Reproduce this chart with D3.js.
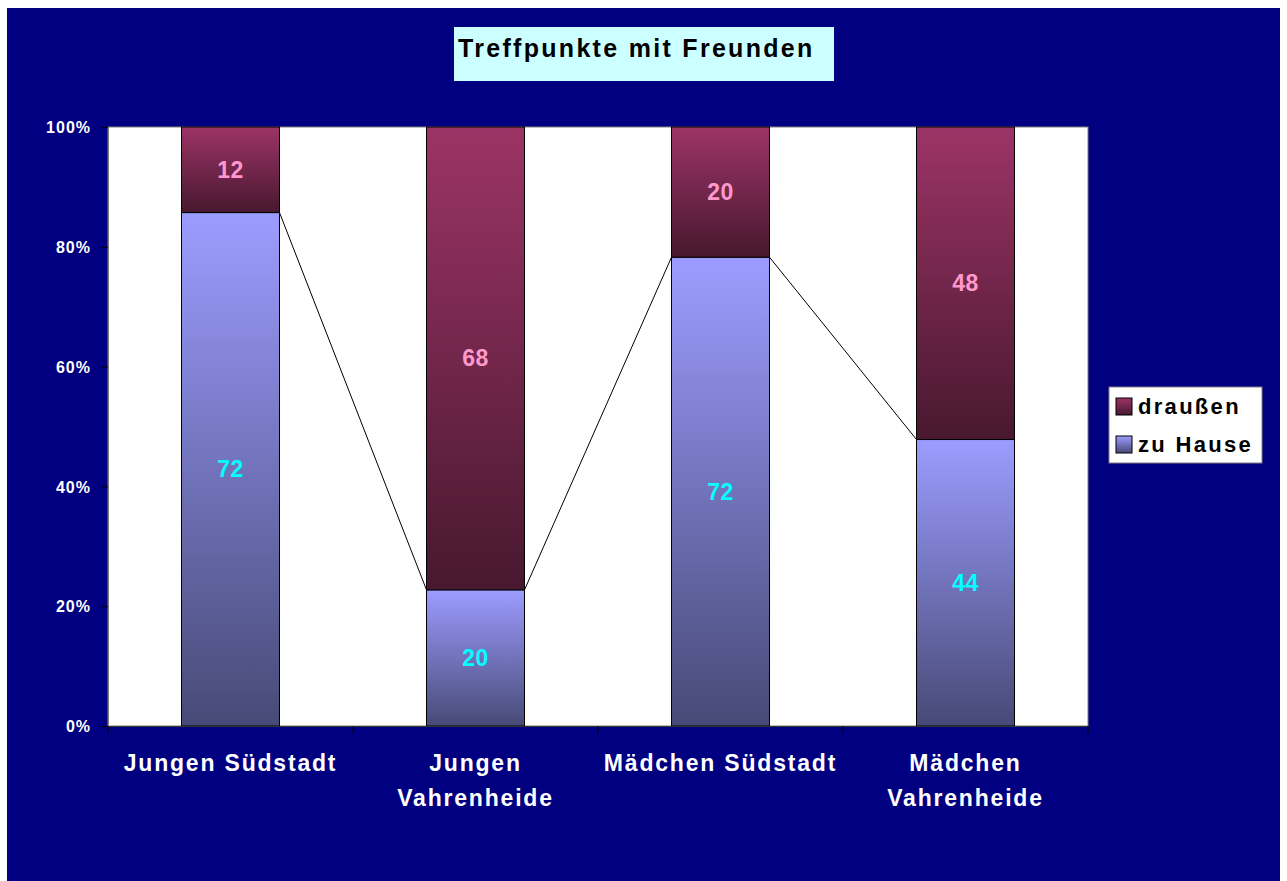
<!DOCTYPE html>
<html>
<head>
<meta charset="utf-8">
<script src="https://cdn.jsdelivr.net/npm/d3@7"></script>
<style>
  body { margin: 0; background: #fff; }
  text { font-family: "Liberation Sans", Arial, sans-serif; font-weight: bold; }
</style>
</head>
<body>
<div id="chart"></div>
<script>
// data
var categories = ["Jungen Südstadt", "Jungen Vahrenheide", "Mädchen Südstadt", "Mädchen Vahrenheide"];
var seriesNames = ["zu Hause", "draußen"];
var zuHause = [72, 20, 72, 44];
var draussen = [12, 68, 20, 48];
var yTicks = [0, 0.2, 0.4, 0.6, 0.8, 1];

var W = 1287, H = 881;
var margin = {top: 127, right: 199, bottom: 155, left: 108},
    width = 1088 - margin.left,
    height = 726 - margin.top;

var svg = d3.select("#chart").append("svg")
    .attr("width", W)
    .attr("height", H);

// navy chart area
svg.append("rect")
    .attr("x", 7).attr("y", 8)
    .attr("width", 1273).attr("height", 873)
    .attr("fill", "#000080");

var defs = svg.append("defs");
var grads = {
  "zu Hause": ["#9c9cff", "#474a76"],
  "draußen": ["#9c3466", "#48182f"]
};
Object.keys(grads).forEach(function (k, i) {
  var g = defs.append("linearGradient")
      .attr("id", "grad" + i)
      .attr("x1", 0).attr("y1", 0).attr("x2", 0).attr("y2", 1);
  g.append("stop").attr("offset", "0%").attr("stop-color", grads[k][0]);
  g.append("stop").attr("offset", "100%").attr("stop-color", grads[k][1]);
});
function fillFor(name) { return "url(#grad" + seriesNames.indexOf(name) + ")"; }

// title box
svg.append("rect")
    .attr("x", 454).attr("y", 27)
    .attr("width", 380).attr("height", 54)
    .attr("fill", "#ccffff");
svg.append("text")
    .attr("x", 458).attr("y", 57)
    .style("font-size", "25px")
    .style("letter-spacing", "2.3px")
    .attr("fill", "#000")
    .text("Treffpunkte mit Freunden");

var g = svg.append("g")
    .attr("transform", "translate(" + margin.left + "," + margin.top + ")");

var rows = categories.map(function (c, i) {
  return {cat: c, "zu Hause": zuHause[i], "draußen": draussen[i]};
});

var stack = d3.stack()
    .keys(seriesNames)
    .offset(d3.stackOffsetExpand);
var layers = stack(rows);

var x = d3.scaleBand()
    .domain(categories)
    .range([0, width])
    .paddingInner(0)
    .paddingOuter(0);

var y = d3.scaleLinear()
    .domain([0, 1])
    .range([height, 0]);

var barW = x.bandwidth() * 0.4;

// plot area
g.append("rect")
    .attr("width", width).attr("height", height)
    .attr("fill", "#fff")
    .attr("stroke", "#808080");

// series lines between tops of "zu Hause"
var base = layers[0];
for (var i = 0; i < base.length - 1; i++) {
  g.append("line")
      .attr("x1", x(categories[i]) + (x.bandwidth() + barW) / 2)
      .attr("y1", y(base[i][1]))
      .attr("x2", x(categories[i + 1]) + (x.bandwidth() - barW) / 2)
      .attr("y2", y(base[i + 1][1]))
      .attr("stroke", "#000")
      .attr("stroke-width", 1);
}

var layer = g.selectAll(".layer")
    .data(layers)
    .enter().append("g")
    .attr("class", "layer");

layer.selectAll("rect")
    .data(function (d) { return d.map(function (p) { p.key = d.key; return p; }); })
    .enter().append("rect")
    .attr("x", function (d) { return x(d.data.cat) + (x.bandwidth() - barW) / 2; })
    .attr("y", function (d) { return y(d[1]); })
    .attr("width", barW)
    .attr("height", function (d) { return y(d[0]) - y(d[1]); })
    .attr("fill", function (d) { return fillFor(d.key); })
    .attr("stroke", "#000")
    .attr("stroke-width", 1);

// value labels
layer.selectAll("text")
    .data(function (d) { return d; })
    .enter().append("text")
    .attr("x", function (d) { return x(d.data.cat) + x.bandwidth() / 2; })
    .attr("y", function (d) { return (y(d[0]) + y(d[1])) / 2 + 8; })
    .attr("text-anchor", "middle")
    .style("font-size", "23px")
    .style("letter-spacing", "0.5px")
    .attr("fill", function (d) { return d.key === "draußen" ? "#ff99cc" : "#00ffff"; })
    .text(function (d) { return d.data[d.key]; });

// y axis
var yAxis = d3.axisLeft(y)
    .tickValues(yTicks)
    .tickFormat(d3.format(".0%"))
    .tickSize(7)
    .tickPadding(10);
var ya = g.append("g").call(yAxis);
ya.select(".domain").attr("stroke", "#808080");
ya.selectAll("line").attr("stroke", "#000");
ya.selectAll("text")
    .attr("fill", "#fff")
    .attr("dy", "0.35em")
    .style("font-size", "16px")
    .style("letter-spacing", "1px")
    .style("font-family", "'Liberation Sans', Arial, sans-serif");

// x axis
var xAxis = d3.axisBottom(x).tickSize(0).tickFormat("");
var xa = g.append("g")
    .attr("transform", "translate(0," + height + ")")
    .call(xAxis);
xa.select(".domain").attr("stroke", "#333");
xa.selectAll(".tick").remove();

// category boundary ticks
g.selectAll(".xtick")
    .data(categories.concat([null]))
    .enter().append("line")
    .attr("x1", function (d, i) { return i * x.step(); })
    .attr("x2", function (d, i) { return i * x.step(); })
    .attr("y1", height).attr("y2", height + 8)
    .attr("stroke", "#000");

// category labels, wrapped like the original
var labels = g.selectAll(".xlabel")
    .data(categories)
    .enter().append("text")
    .attr("class", "xlabel")
    .attr("text-anchor", "middle")
    .attr("fill", "#fff")
    .style("font-size", "23px")
    .style("letter-spacing", "1.8px")
    .each(function (d) {
      var t = d3.select(this);
      var cx = x(d) + x.bandwidth() / 2;
      t.text(d).attr("x", cx).attr("y", height + 45);
      if (this.getComputedTextLength() > x.bandwidth() - 4) {
        var words = d.split(" ");
        t.text(null);
        words.forEach(function (w, k) {
          t.append("tspan").attr("x", cx).attr("y", height + 45 + k * 35).text(w);
        });
      }
    });

// legend
var lg = svg.append("g").attr("transform", "translate(1109,387)");
lg.append("rect")
    .attr("width", 153).attr("height", 76)
    .attr("fill", "#fff")
    .attr("stroke", "#808080");
var legendOrder = ["draußen", "zu Hause"];
var item = lg.selectAll(".item")
    .data(legendOrder)
    .enter().append("g")
    .attr("transform", function (d, i) { return "translate(0," + (i * 38) + ")"; });
item.append("rect")
    .attr("x", 7).attr("y", 11)
    .attr("width", 16).attr("height", 17)
    .attr("fill", function (d) { return fillFor(d); })
    .attr("stroke", "#000");
item.append("text")
    .attr("x", 29).attr("y", 27)
    .attr("fill", "#000")
    .style("font-size", "22px")
    .style("letter-spacing", "2.3px")
    .text(function (d) { return d; });
</script>
</body>
</html>
